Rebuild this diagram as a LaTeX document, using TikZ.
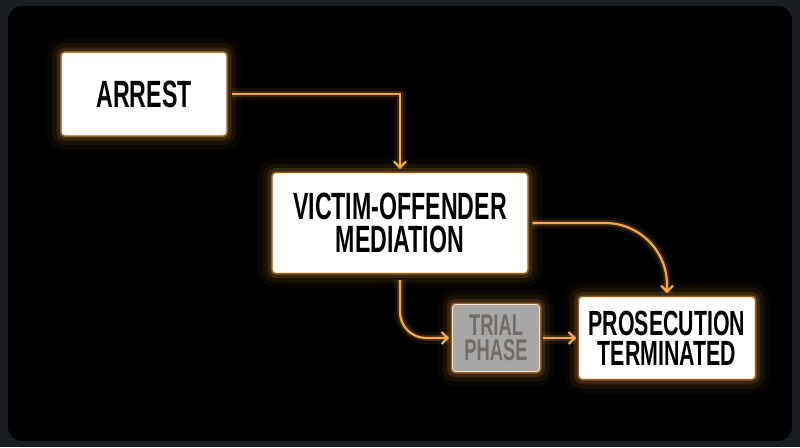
\documentclass[tikz,border=0pt]{standalone}
\usepackage{fontspec}
\newfontfamily\stagefont[FakeStretch=0.61]{Liberation Sans}
\usetikzlibrary{arrows.meta}
\definecolor{glowc}{HTML}{F7A845}
\definecolor{framec}{HTML}{1A1D22}
\definecolor{trialfill}{HTML}{A9A7A5}
\definecolor{trialtext}{HTML}{6F6C69}

\begin{document}
\begin{tikzpicture}[%
  x=1pt, y=-1pt,
  glow/.style={
    preaction={draw=glowc, line width=30pt, opacity=.04},
    preaction={draw=glowc, line width=20pt, opacity=.07},
    preaction={draw=glowc, line width=11pt, opacity=.14},
    preaction={draw=glowc, line width=4pt, opacity=.45}},
  stage/.style={glow, rounded corners=3pt, fill=white, draw=glowc!35!white,
    line width=.8pt, inner sep=0pt, align=center, text=black,
    font=\stagefont\bfseries\fontsize{38}{33}\selectfont},
  faded/.style={stage, fill=trialfill, text=trialtext,
    font=\stagefont\bfseries\fontsize{30}{25}\selectfont},
  flow/.style={draw=glowc, line width=2.2pt,
    -{Straight Barb[length=6pt,width=12pt]},
    preaction={draw=glowc, line width=12pt, opacity=.07, -},
    preaction={draw=glowc, line width=6pt, opacity=.16, -}}]
\useasboundingbox (0,0) rectangle (800,447);
% frame
\fill[framec] (0,0) rectangle (800,447);
\fill[black, rounded corners=14pt] (8,6) rectangle (792,441);
% stages
\node[stage, minimum width=164pt, minimum height=82pt] (arrest) at (144,94) {ARREST};
\node[stage, minimum width=254pt, minimum height=99pt] (med) at (400,223) {VICTIM-OFFENDER\\MEDIATION};
\node[faded, minimum width=87pt, minimum height=67pt] (trial) at (496,338) {TRIAL\\PHASE};
\node[stage, minimum width=175pt, minimum height=81pt,
  font=\stagefont\bfseries\fontsize{35}{30}\selectfont] (pros) at (667,338) {PROSECUTION\\TERMINATED};
% connectors
\draw[flow] ([xshift=6pt]arrest.east) -| ([yshift=4pt]med.north);
\draw[flow, rounded corners=26pt] ([yshift=-7pt]med.south) |- ([xshift=-3pt]trial.west);
\draw[flow] ([xshift=3pt]trial.east) -- ([xshift=-3pt]pros.west);
\draw[flow, rounded corners=62pt] ([xshift=5pt]med.east) -| ([yshift=4pt]pros.north);
\end{tikzpicture}
\end{document}
